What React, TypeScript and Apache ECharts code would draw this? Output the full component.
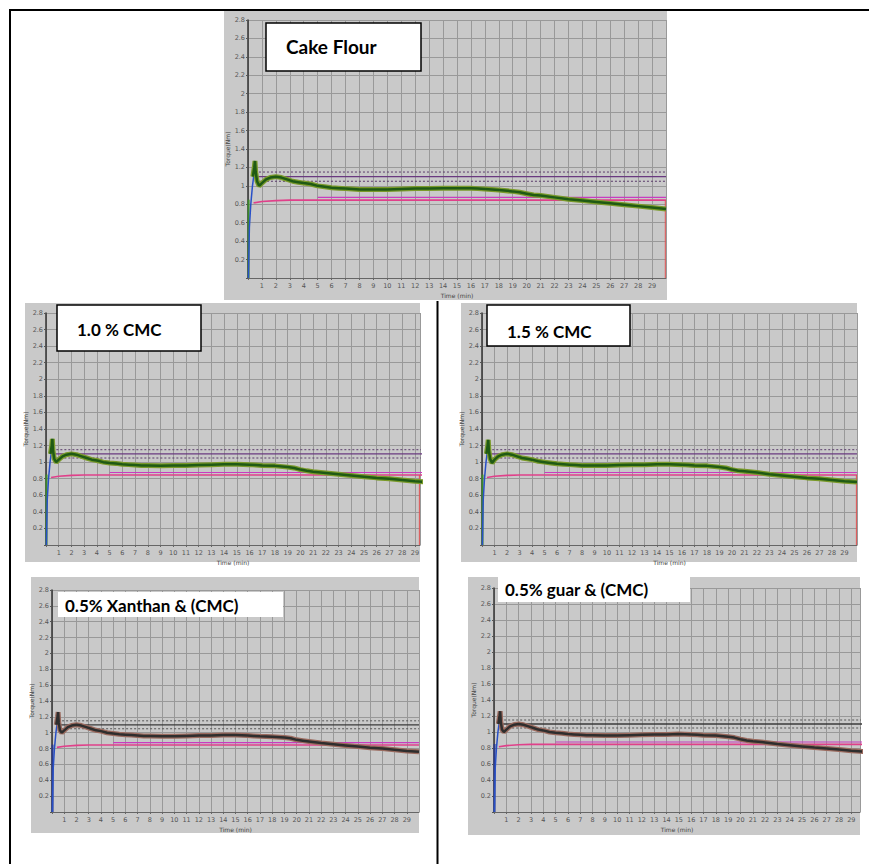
import React, { useEffect, useRef } from "react";
import * as echarts from "echarts";

// ---- data (minutes, torque in Nm) ----
const TIME = [0.35, 0.45, 0.5, 0.55, 0.65, 0.8, 1, 1.3, 1.6, 2, 2.4, 2.8, 3.2, 3.6, 4, 4.5, 5, 5.5, 6, 6.5, 7, 7.5, 8, 9, 10, 11, 12, 13, 14, 15, 16, 16.5, 17, 18, 19, 19.5, 20, 20.5, 21, 22, 23, 24, 25, 26, 27, 28, 29, 30];
const CAKE_FLOUR = [1.1, 1.2, 1.27, 1.15, 1.05, 1.0, 1.03, 1.07, 1.09, 1.1, 1.09, 1.07, 1.05, 1.04, 1.03, 1.02, 1.0, 0.99, 0.98, 0.975, 0.97, 0.965, 0.96, 0.96, 0.96, 0.965, 0.97, 0.97, 0.975, 0.975, 0.975, 0.97, 0.965, 0.955, 0.94, 0.93, 0.915, 0.9, 0.895, 0.875, 0.855, 0.84, 0.825, 0.81, 0.795, 0.78, 0.765, 0.75];
const CMC_10 = [1.1, 1.2, 1.28, 1.14, 1.04, 1.0, 1.03, 1.07, 1.09, 1.1, 1.09, 1.07, 1.05, 1.03, 1.02, 1.0, 0.99, 0.985, 0.975, 0.97, 0.965, 0.96, 0.96, 0.955, 0.96, 0.96, 0.965, 0.97, 0.975, 0.975, 0.97, 0.965, 0.96, 0.955, 0.94, 0.93, 0.91, 0.895, 0.885, 0.87, 0.855, 0.84, 0.825, 0.81, 0.8, 0.785, 0.77, 0.76];
const CMC_15 = [1.1, 1.2, 1.27, 1.14, 1.04, 0.99, 1.03, 1.07, 1.09, 1.1, 1.09, 1.07, 1.05, 1.04, 1.03, 1.01, 1.0, 0.99, 0.98, 0.975, 0.97, 0.965, 0.96, 0.96, 0.96, 0.965, 0.97, 0.97, 0.975, 0.975, 0.97, 0.965, 0.96, 0.955, 0.94, 0.93, 0.91, 0.895, 0.89, 0.875, 0.855, 0.84, 0.825, 0.81, 0.8, 0.785, 0.77, 0.76];
const XANTHAN_CMC = [1.1, 1.2, 1.26, 1.13, 1.03, 1.0, 1.03, 1.07, 1.09, 1.1, 1.09, 1.07, 1.05, 1.03, 1.02, 1.0, 0.99, 0.98, 0.975, 0.97, 0.965, 0.96, 0.96, 0.955, 0.955, 0.96, 0.965, 0.965, 0.97, 0.97, 0.965, 0.96, 0.955, 0.95, 0.94, 0.93, 0.91, 0.9, 0.89, 0.87, 0.855, 0.84, 0.825, 0.81, 0.8, 0.785, 0.77, 0.76];
const GUAR_CMC = [1.1, 1.2, 1.26, 1.13, 1.03, 1.0, 1.03, 1.07, 1.09, 1.1, 1.09, 1.07, 1.05, 1.03, 1.02, 1.0, 0.99, 0.985, 0.975, 0.97, 0.965, 0.96, 0.96, 0.955, 0.955, 0.96, 0.965, 0.97, 0.97, 0.975, 0.97, 0.965, 0.96, 0.955, 0.94, 0.93, 0.91, 0.895, 0.885, 0.87, 0.85, 0.835, 0.82, 0.805, 0.795, 0.78, 0.765, 0.755];
const START_TIME = [0.03, 0.1, 0.2, 0.32, 0.45];
const START_TORQUE = [0.0, 0.55, 0.8, 1.0, 1.15];
const PINK_TIME = [0.4, 1, 2, 3, 30];
const PINK_TORQUE = [0.815, 0.83, 0.84, 0.845, 0.845];
const C1_UPPER = 1.15;
const C1_TARGET = 1.1;
const C1_LOWER = 1.05;
const C2_LEVEL = 0.875;
const PANEL_TITLES = ["Cake Flour", "1.0 % CMC", "1.5 % CMC", "0.5% Xanthan & (CMC)", "0.5% guar & (CMC)"];
const PANEL_VALUES = [CAKE_FLOUR, CMC_10, CMC_15, XANTHAN_CMC, GUAR_CMC];
const Y_MAX = 2.8;

// ---- layout ----
const PANELS = [
  { bg: [224, 11, 443, 289], grid: { left: 248, top: 20, width: 418, height: 258 }, xMax: 30, box: [266, 23, 155, 48], border: true, text: [286, 46], font: 19, dark: false, redEdge: true },
  { bg: [25, 303, 395, 259], grid: { left: 46, top: 313, width: 374, height: 232 }, xMax: 29.4, box: [57, 305, 144, 46], border: true, text: [77, 329], font: 17, dark: false, redEdge: true },
  { bg: [461, 303, 396, 259], grid: { left: 482, top: 313, width: 375, height: 232 }, xMax: 30, box: [487, 305, 143, 41], border: true, text: [507, 331], font: 17, dark: false, redEdge: true },
  { bg: [31, 577, 388, 256], grid: { left: 52, top: 590, width: 367, height: 222 }, xMax: 30, box: [58, 592, 225, 25], border: false, text: [65, 605], font: 17, dark: true, redEdge: false },
  { bg: [468, 577, 392, 258], grid: { left: 494, top: 588, width: 366, height: 224 }, xMax: 29.7, box: [498, 576, 192, 26], border: false, text: [505, 589], font: 17, dark: true, redEdge: false },
];

const zip = (a: number[], b: number[]) => a.map((v, i) => [v, b[i]]);

export default function App() {
  const ref = useRef<HTMLDivElement>(null);
  useEffect(() => {
    if (!ref.current) return;
    const chart = echarts.init(ref.current, undefined, { renderer: "svg" });
    const grids: any[] = [];
    const xAxes: any[] = [];
    const yAxes: any[] = [];
    const series: any[] = [];
    const graphics: any[] = [];

    PANELS.forEach((p, i) => {
      grids.push({ ...p.grid, containLabel: false });
      xAxes.push({
        type: "value",
        gridIndex: i,
        min: 0,
        max: p.xMax,
        interval: 1,
        name: "Time (min)",
        nameLocation: "middle",
        nameGap: 14,
        nameTextStyle: { fontSize: 6, color: "#444", fontFamily: "DejaVu Sans" },
        axisLine: { show: true, lineStyle: { color: "#666", width: 1 } },
        axisTick: { show: true, length: 2, lineStyle: { color: "#666" } },
        axisLabel: {
          fontSize: 6.5,
          color: "#555",
          margin: 4,
          fontFamily: "DejaVu Sans",
          showMaxLabel: false,
          formatter: (v: number) => (v <= 0 || v >= 30 || Math.abs(v - Math.round(v)) > 1e-6 ? "" : String(Math.round(v))),
        },
        splitLine: { show: true, lineStyle: { color: "#999999", width: 1 } },
      });
      yAxes.push({
        type: "value",
        gridIndex: i,
        min: 0,
        max: Y_MAX,
        interval: 0.2,
        name: "Torque(Nm)",
        nameLocation: "middle",
        nameRotate: 90,
        nameGap: 16,
        nameTextStyle: { fontSize: 6, color: "#444", fontFamily: "DejaVu Sans" },
        axisLine: { show: true, lineStyle: { color: "#333", width: 1.5 } },
        axisTick: { show: true, length: 2, lineStyle: { color: "#555" } },
        axisLabel: {
          fontSize: 6.5,
          color: "#555",
          margin: 3,
          fontFamily: "DejaVu Sans",
          formatter: (v: number) => (v === 0 ? "" : String(Math.round(v * 10) / 10)),
        },
        splitLine: { show: true, lineStyle: { color: "#999999", width: 1 } },
      });

      const base = { type: "line", xAxisIndex: i, yAxisIndex: i, showSymbol: false, symbol: "none", silent: true };
      const refColor = p.dark ? "#3a3a3a" : "#6a3a80";
      const dotColor = p.dark ? "#555555" : "#5a3a6a";
      // C1 reference band
      series.push({ ...base, data: [[0.5, C1_UPPER], [30, C1_UPPER]], lineStyle: { color: dotColor, width: 1, type: [2, 2] } });
      series.push({ ...base, data: [[0.5, C1_TARGET], [30, C1_TARGET]], lineStyle: { color: refColor, width: 1.3 } });
      series.push({ ...base, data: [[0.5, C1_LOWER], [30, C1_LOWER]], lineStyle: { color: dotColor, width: 1, type: [2, 2] } });
      // C2 level lines
      series.push({ ...base, data: [[5, C2_LEVEL], [30, C2_LEVEL]], lineStyle: { color: "#c83cc0", width: 1.2 } });
      series.push({ ...base, data: zip(PINK_TIME, PINK_TORQUE), lineStyle: { color: "#e0408a", width: 1.6 } });
      if (p.redEdge) {
        series.push({ ...base, data: [[p.xMax - 0.05, 0], [p.xMax - 0.05, 0.845]], lineStyle: { color: "#e05050", width: 1 } });
      }
      // start-up segment
      series.push({ ...base, data: [[0.04, 0], [0.04, 0.85]], lineStyle: { color: p.dark ? "#2a3a8a" : "#3c8a2a", width: 2 } });
      series.push({ ...base, data: zip(START_TIME, START_TORQUE), lineStyle: { color: "#2850c8", width: 1.5 } });
      // torque curve
      const vals = PANEL_VALUES[i];
      series.push({ ...base, data: zip(TIME, vals), lineStyle: { color: p.dark ? "#9a6a5e" : "#7a9a2a", width: 5 } });
      series.push({ ...base, data: zip(TIME, vals), lineStyle: { color: p.dark ? "#2e2e2e" : "#1f5a14", width: 2.5 } });

      // graphics: panel background + label box
      graphics.push({
        type: "rect",
        z: -10,
        shape: { x: p.bg[0], y: p.bg[1], width: p.bg[2], height: p.bg[3] },
        style: { fill: "#c9c9c9" },
      });
      graphics.push({
        type: "rect",
        z: 100,
        shape: { x: p.box[0], y: p.box[1], width: p.box[2], height: p.box[3] },
        style: { fill: "#ffffff", stroke: p.border ? "#000000" : "#ffffff", lineWidth: p.border ? 1.5 : 0 },
      });
      graphics.push({
        type: "text",
        z: 101,
        x: p.text[0],
        y: p.text[1],
        style: {
          text: PANEL_TITLES[i],
          fill: "#000",
          font: `bold ${p.font}px Lato, "Open Sans", sans-serif`,
          textAlign: "left",
          textVerticalAlign: "middle",
        },
      });
    });

    // figure frame lines
    graphics.push({ type: "line", z: 102, shape: { x1: 9, y1: 10, x2: 869, y2: 10 }, style: { stroke: "#000", lineWidth: 2 } });
    graphics.push({ type: "line", z: 102, shape: { x1: 10, y1: 9, x2: 10, y2: 864 }, style: { stroke: "#000", lineWidth: 2 } });
    graphics.push({ type: "line", z: 102, shape: { x1: 437.5, y1: 301, x2: 437.5, y2: 864 }, style: { stroke: "#000", lineWidth: 2 } });

    chart.setOption({
      animation: false,
      backgroundColor: "#ffffff",
      grid: grids,
      xAxis: xAxes,
      yAxis: yAxes,
      series,
      graphic: { elements: graphics },
    });
    return () => chart.dispose();
  }, []);
  return <div ref={ref} style={{ position: "absolute", left: 0, top: 0, width: 869, height: 864 }} />;
}
